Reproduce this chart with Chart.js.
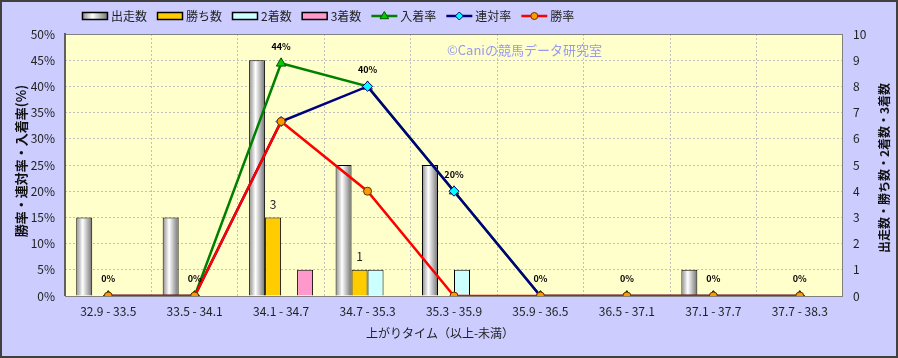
<!DOCTYPE html>
<html>
<head>
<meta charset="utf-8">
<script src="https://cdn.jsdelivr.net/npm/chart.js@4/dist/chart.umd.min.js"></script>
<style>
  html, body { margin: 0; padding: 0; background: #fff; }
  canvas { display: block; }
</style>
</head>
<body>
<canvas id="chart" width="898" height="358"></canvas>
<script>
// 上がりタイム別成績

const categories = ['32.9 - 33.5', '33.5 - 34.1', '34.1 - 34.7', '34.7 - 35.3', '35.3 - 35.9',
                    '35.9 - 36.5', '36.5 - 37.1', '37.1 - 37.7', '37.7 - 38.3'];

// 件数 (右軸)
const startCounts  = [3, 3, 9, 5, 5, 0, 0, 1, 0];
const winCounts    = [0, 0, 3, 1, 0, 0, 0, 0, 0];
const secondCounts = [0, 0, 0, 1, 1, 0, 0, 0, 0];
const thirdCounts  = [0, 0, 1, 0, 0, 0, 0, 0, 0];

// 率 (左軸, %)
const placeRate = [0, 0, 44.4, 40, 20, 0, 0, 0, 0];
const top2Rate  = [0, 0, 33.3, 40, 20, 0, 0, 0, 0];
const winRate   = [0, 0, 33.3, 20, 0, 0, 0, 0, 0];

const leftTicks  = { min: 0, max: 50, step: 5 };
const rightTicks = { min: 0, max: 10, step: 1 };

const FONT = "'Noto Sans CJK JP', 'Noto Sans', sans-serif";
const CAT_PCT = 0.74;

// 出走数のバーは円柱風のグラデーション
function startsFill(c) {
    const xs = c.chart.scales.x;
    if (c.type !== 'data' || !xs || !xs.width) return '#dddddd';
    const bw = xs.width / categories.length * CAT_PCT / 4;
    const left = xs.getPixelForValue(c.dataIndex) - 2 * bw;
    const g = c.chart.ctx.createLinearGradient(left, 0, left + bw, 0);
    g.addColorStop(0, '#8a8a8a');
    g.addColorStop(0.4, '#ffffff');
    g.addColorStop(1, '#707070');
    return g;
}

const barBorder = c => (c.raw ? 1 : 0);

function marker(ctx, style, x, y, r, fill, stroke) {
    ctx.save();
    ctx.fillStyle = fill;
    ctx.strokeStyle = stroke;
    ctx.lineWidth = 1;
    ctx.beginPath();
    if (style === 'triangle') {
        ctx.moveTo(x, y - r);
        ctx.lineTo(x + r * 0.95, y + r * 0.6);
        ctx.lineTo(x - r * 0.95, y + r * 0.6);
        ctx.closePath();
    } else if (style === 'rectRot') {
        ctx.moveTo(x, y - r);
        ctx.lineTo(x + r, y);
        ctx.lineTo(x, y + r);
        ctx.lineTo(x - r, y);
        ctx.closePath();
    } else {
        ctx.arc(x, y, r, 0, Math.PI * 2);
    }
    ctx.fill();
    ctx.stroke();
    ctx.restore();
}

const legendItems = [
    { text: '出走数', type: 'bar', fill: 'grad', border: '#000' },
    { text: '勝ち数', type: 'bar', fill: '#ffcc00', border: '#000' },
    { text: '2着数', type: 'bar', fill: '#ccffff', border: '#000' },
    { text: '3着数', type: 'bar', fill: '#ff99cc', border: '#000' },
    { text: '入着率', type: 'line', color: '#008000', style: 'triangle', fill: '#00cc00', border: '#005500', r: 4.5 },
    { text: '連対率', type: 'line', color: '#000080', style: 'rectRot', fill: '#00ffff', border: '#000080', r: 4 },
    { text: '勝率', type: 'line', color: '#ff0000', style: 'circle', fill: '#ff9900', border: '#663300', r: 3.5 }
];

const decorPlugin = {
    id: 'decor',
    beforeDraw(chart) {
        const { ctx, chartArea: a, width, height } = chart;
        ctx.save();
        ctx.fillStyle = '#ccccff';
        ctx.fillRect(0, 0, width, height);
        ctx.fillStyle = '#ffffcc';
        ctx.fillRect(a.left, a.top, a.right - a.left, a.bottom - a.top);
        ctx.restore();
    },
    beforeDatasetsDraw(chart) {
        const { ctx, chartArea: a } = chart;
        ctx.save();
        ctx.strokeStyle = '#808080';
        ctx.lineWidth = 1;
        ctx.strokeRect(a.left + 0.5, a.top + 0.5, a.right - a.left - 1, a.bottom - a.top);
        ctx.strokeStyle = '#606060';
        ctx.lineWidth = 2;
        ctx.beginPath();
        ctx.moveTo(a.left, a.top - 1);
        ctx.lineTo(a.left, a.bottom);
        ctx.stroke();
        ctx.restore();

        // watermark
        ctx.save();
        ctx.font = '13px ' + FONT;
        ctx.fillStyle = '#9999ee';
        ctx.textBaseline = 'middle';
        ctx.fillText('©Caniの競馬データ研究室', 447, 50);
        ctx.restore();
    },
    afterDatasetsDraw(chart) {
        const ctx = chart.ctx;
        ctx.save();
        ctx.textAlign = 'center';
        ctx.textBaseline = 'middle';
        ctx.fillStyle = '#000';

        // 入着率のラベル
        ctx.font = 'bold 9px ' + FONT;
        const placeMeta = chart.getDatasetMeta(4);
        placeMeta.data.forEach((pt, i) => {
            ctx.fillText(Math.round(placeRate[i]) + '%', pt.x, pt.y - 17);
        });

        // 勝ち数のラベル
        ctx.font = '12px ' + FONT;
        ctx.fillStyle = '#222';
        const winMeta = chart.getDatasetMeta(1);
        winMeta.data.forEach((bar, i) => {
            if (winCounts[i]) ctx.fillText(String(winCounts[i]), bar.x, bar.y - 13);
        });
        ctx.restore();
    },
    afterDraw(chart) {
        const { ctx, width, height } = chart;
        ctx.save();

        // outer frame
        ctx.strokeStyle = '#404040';
        ctx.lineWidth = 2;
        ctx.strokeRect(1, 1, width - 2, height - 2);

        // axis titles
        ctx.fillStyle = '#111';
        ctx.textAlign = 'center';
        ctx.textBaseline = 'middle';
        ctx.font = 'bold 13px ' + FONT;
        ctx.save();
        ctx.translate(21, 161);
        ctx.rotate(-Math.PI / 2);
        ctx.fillText('勝率・連対率・入着率(%)', 0, 0);
        ctx.restore();
        ctx.font = 'bold 12px ' + FONT;
        ctx.save();
        ctx.translate(884, 168);
        ctx.rotate(-Math.PI / 2);
        ctx.fillText('出走数・勝ち数・2着数・3着数', 0, 0);
        ctx.restore();
        ctx.font = '12px ' + FONT;
        ctx.fillStyle = '#222';
        ctx.fillText('上がりタイム（以上-未満）', 440, 333);

        // legend
        ctx.font = '12px ' + FONT;
        ctx.textAlign = 'left';
        let x = 82;
        const y = 16;
        legendItems.forEach(item => {
            if (item.type === 'bar') {
                if (item.fill === 'grad') {
                    const g = ctx.createLinearGradient(x, 0, x + 26, 0);
                    g.addColorStop(0, '#8a8a8a');
                    g.addColorStop(0.4, '#ffffff');
                    g.addColorStop(1, '#707070');
                    ctx.fillStyle = g;
                } else {
                    ctx.fillStyle = item.fill;
                }
                ctx.fillRect(x, y - 4, 26, 8);
                ctx.strokeStyle = '#000';
                ctx.lineWidth = 1.5;
                ctx.strokeRect(x + 0.5, y - 3.5, 25, 7);
            } else {
                ctx.strokeStyle = item.color;
                ctx.lineWidth = 2.5;
                ctx.beginPath();
                ctx.moveTo(x, y);
                ctx.lineTo(x + 26, y);
                ctx.stroke();
                marker(ctx, item.style, x + 13, y, item.r, item.fill, item.border);
            }
            ctx.fillStyle = '#222';
            ctx.fillText(item.text, x + 29, y);
            x += 29 + ctx.measureText(item.text).width + 10;
        });
        ctx.restore();
    }
};

const gridDash = [2, 2];

new Chart(document.getElementById('chart'), {
    type: 'bar',
    data: {
        labels: categories,
        datasets: [
            { label: '出走数', data: startCounts, yAxisID: 'y1', order: 10,
              backgroundColor: startsFill, borderColor: '#000', borderWidth: barBorder },
            { label: '勝ち数', data: winCounts, yAxisID: 'y1', order: 11,
              backgroundColor: '#ffcc00', borderColor: '#000', borderWidth: barBorder },
            { label: '2着数', data: secondCounts, yAxisID: 'y1', order: 12,
              backgroundColor: '#ccffff', borderColor: '#000', borderWidth: barBorder },
            { label: '3着数', data: thirdCounts, yAxisID: 'y1', order: 13,
              backgroundColor: '#ff99cc', borderColor: '#000', borderWidth: barBorder },
            { type: 'line', label: '入着率', data: placeRate, yAxisID: 'y', order: 3,
              borderColor: '#008000', borderWidth: 2.5, pointStyle: 'triangle', pointRadius: 5.5,
              pointBackgroundColor: '#00cc00', pointBorderColor: '#005500', pointBorderWidth: 1 },
            { type: 'line', label: '連対率', data: top2Rate, yAxisID: 'y', order: 2,
              borderColor: '#000080', borderWidth: 2.5, pointStyle: 'rectRot', pointRadius: 5,
              pointBackgroundColor: '#00ffff', pointBorderColor: '#000080', pointBorderWidth: 1 },
            { type: 'line', label: '勝率', data: winRate, yAxisID: 'y', order: 1,
              borderColor: '#ff0000', borderWidth: 2.5, pointStyle: 'circle', pointRadius: 4,
              pointBackgroundColor: '#ff9900', pointBorderColor: '#663300', pointBorderWidth: 1 }
        ]
    },
    options: {
        responsive: false,
        animation: false,
        events: [],
        categoryPercentage: CAT_PCT,
        barPercentage: 1.0,
        layout: { padding: { top: 34, left: 0, right: 0, bottom: 0 } },
        plugins: {
            legend: { display: false },
            tooltip: { enabled: false },
            title: { display: false }
        },
        scales: {
            x: {
                grid: { color: '#c0c0c0', drawTicks: false, offset: true },
                border: { display: false, dash: gridDash },
                ticks: { padding: 8, color: '#222', font: { family: FONT, size: 12 }, maxRotation: 0, autoSkip: false },
                afterFit: s => { s.height = 62; }
            },
            y: {
                position: 'left',
                min: leftTicks.min, max: leftTicks.max,
                grid: { color: '#c0c0c0', drawTicks: false },
                border: { display: false, dash: gridDash },
                ticks: { stepSize: leftTicks.step, padding: 10, color: '#222',
                         font: { family: FONT, size: 12 }, callback: v => v + '%' },
                afterFit: s => { s.width = 65; }
            },
            y1: {
                position: 'right',
                min: rightTicks.min, max: rightTicks.max,
                grid: { drawOnChartArea: false, drawTicks: false },
                border: { display: false },
                ticks: { stepSize: rightTicks.step, padding: 10, color: '#222',
                         font: { family: FONT, size: 12 } },
                afterFit: s => { s.width = 55; }
            }
        }
    },
    plugins: [decorPlugin]
});
</script>
</body>
</html>
